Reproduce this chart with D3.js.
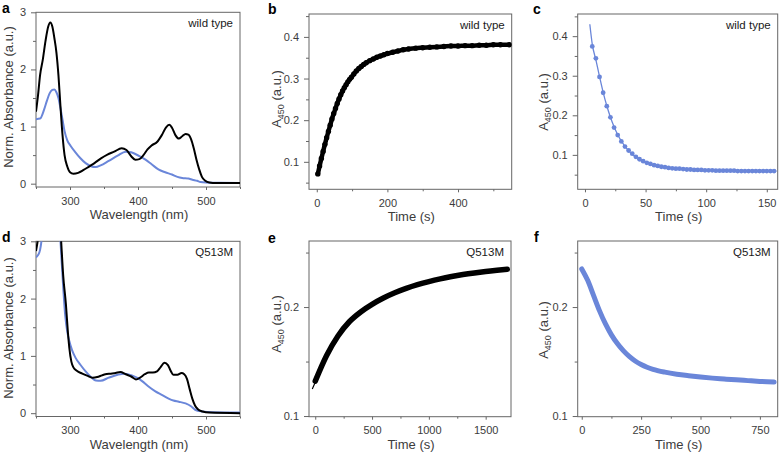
<!DOCTYPE html>
<html><head><meta charset="utf-8">
<script src="https://cdn.jsdelivr.net/npm/d3@7"></script>
<style>
html,body{margin:0;padding:0;background:#fff;}
svg{display:block;}
svg text{font-family:"Liberation Sans",Arial,sans-serif;}
</style></head>
<body>
<svg id="chart" width="783" height="456"></svg>
<script>
// ---------- DATA ----------
// Panel a (wild type spectra): [wavelength nm, normalized absorbance]
const specWtBlack = [[250,1.26],[253,1.55],[256,1.9],[260,2.17],[264,2.5],[268,2.75],[271,2.82],[274,2.75],[277,2.55],[280,2.3],[283,1.9],[286,1.35],[289,0.85],[292,0.5],[296,0.3],[300,0.2],[305,0.175],[312,0.19],[320,0.24],[328,0.3],[336,0.36],[345,0.44],[355,0.51],[365,0.56],[376,0.62],[383,0.59],[390,0.48],[396,0.42],[402,0.43],[408,0.5],[414,0.6],[420,0.67],[428,0.73],[435,0.85],[441,0.98],[446,1.03],[450,0.98],[455,0.85],[460,0.79],[465,0.83],[470,0.87],[474,0.86],[478,0.78],[482,0.62],[486,0.42],[490,0.25],[494,0.12],[499,0.05],[505,0.02],[515,0.01],[550,0.01]];
const specWtBlue = [[250,1.13],[256,1.14],[262,1.3],[266,1.45],[270,1.58],[274,1.64],[277,1.65],[280,1.6],[283,1.5],[286,1.32],[289,1.12],[292,0.92],[296,0.76],[301,0.66],[308,0.55],[315,0.45],[323,0.36],[330,0.31],[338,0.29],[345,0.32],[357,0.4],[370,0.49],[382,0.56],[390,0.55],[396,0.52],[404,0.47],[411,0.42],[420,0.34],[430,0.25],[440,0.2],[450,0.16],[458,0.12],[465,0.1],[474,0.09],[480,0.07],[487,0.05],[492,0.03],[500,0.02],[520,0.015],[550,0.01]];
// Panel d (Q513M spectra)
const specMutBlack = [[250,2.83],[253,3.05],[260,4.0],[270,4.8],[280,4.3],[284,3.6],[287,3.0],[290,2.4],[294,1.9],[297,1.4],[299,1.14],[302,0.9],[305,0.8],[310,0.74],[318,0.69],[326,0.65],[333,0.62],[340,0.63],[347,0.66],[352,0.68],[360,0.69],[367,0.7],[374,0.72],[382,0.68],[390,0.64],[397,0.59],[403,0.62],[410,0.68],[416,0.71],[422,0.71],[428,0.73],[433,0.8],[439,0.88],[444,0.84],[448,0.74],[452,0.67],[458,0.67],[464,0.7],[468,0.68],[472,0.6],[476,0.42],[480,0.25],[484,0.13],[488,0.07],[495,0.03],[505,0.01],[550,0.0]];
const specMutBlue = [[250,2.72],[253,2.76],[256,2.85],[259,3.1],[265,4.0],[275,4.4],[282,3.8],[286,3.0],[290,2.2],[293,1.7],[296,1.42],[299,1.26],[303,1.1],[308,0.97],[315,0.85],[323,0.73],[330,0.64],[338,0.57],[345,0.565],[357,0.62],[370,0.67],[380,0.69],[391,0.66],[400,0.61],[406,0.56],[415,0.47],[425,0.385],[435,0.32],[445,0.255],[452,0.22],[460,0.2],[470,0.17],[478,0.12],[484,0.06],[494,0.03],[510,0.015],[550,0.01]];
// Panel b (wild type, A450 rise): [time s, A450]
const riseWt = [[3,0.071],[8,0.09],[13,0.108],[18,0.125],[23,0.142],[28,0.158],[33,0.173],[38,0.188],[43,0.203],[48,0.216],[53,0.228],[58,0.24],[63,0.251],[68,0.261],[73,0.27],[78,0.278],[83,0.285],[88,0.292],[93,0.298],[98,0.303],[105,0.311],[112,0.318],[119,0.324],[126,0.329],[133,0.334],[140,0.338],[150,0.343],[160,0.347],[170,0.351],[180,0.354],[190,0.357],[200,0.36],[215,0.363],[230,0.366],[245,0.369],[260,0.371],[280,0.373],[300,0.374],[320,0.375],[340,0.376],[360,0.377],[380,0.378],[400,0.378],[420,0.379],[440,0.379],[460,0.38],[480,0.38],[500,0.381],[520,0.381],[545,0.381]];
// Panel c (wild type, A450 decay) points and fit
const decayWt = [[6,0.374],[9,0.344],[12,0.297],[15,0.257],[18,0.223],[21,0.195],[24,0.169],[27,0.15],[30,0.134],[33,0.121],[36,0.111],[39,0.103],[42,0.095],[45,0.089],[48,0.084],[51,0.08],[54,0.077],[57,0.074],[60,0.072],[63,0.07],[66,0.069],[69,0.067],[72,0.066],[75,0.065],[78,0.065],[81,0.064],[84,0.063],[87,0.063],[90,0.062],[93,0.062],[96,0.062],[99,0.061],[102,0.061],[105,0.061],[108,0.06],[111,0.06],[114,0.06],[117,0.06],[120,0.06],[123,0.06],[126,0.059],[129,0.059],[132,0.059],[135,0.059],[138,0.059],[141,0.059],[144,0.059],[147,0.059],[150,0.059],[153,0.059],[156,0.059]];
const decayWtFit = [[4,0.43],[6,0.38],[9,0.34],[12,0.298],[15,0.258],[18,0.224],[21,0.195],[24,0.171],[27,0.151],[30,0.135],[35,0.114],[40,0.099],[45,0.089],[50,0.081],[60,0.072],[70,0.067],[80,0.064],[100,0.061],[120,0.06],[158,0.059]];
// Panel e (Q513M, A450 rise)
const riseMut = [[0,0.132],[100,0.1555],[200,0.1735],[300,0.1865],[400,0.1955],[500,0.2025],[600,0.2083],[700,0.2131],[800,0.2171],[900,0.2205],[1000,0.2234],[1100,0.2259],[1200,0.228],[1300,0.2298],[1400,0.2313],[1500,0.2326],[1600,0.2337],[1690,0.2346]];
const riseMutFit = [[-26,0.1248],[0,0.131],[20,0.136]];
// Panel f (Q513M, A450 decay)
const decayMut = [[0,0.235],[25,0.2245],[50,0.2105],[75,0.1965],[100,0.1845],[125,0.1745],[150,0.1665],[175,0.16],[200,0.1547],[225,0.1505],[250,0.1473],[275,0.1448],[300,0.1429],[350,0.1403],[400,0.1384],[450,0.137],[500,0.1358],[550,0.1348],[600,0.134],[650,0.1332],[700,0.1325],[750,0.1318],[810,0.1312]];

// tick values
const ticksSpecX = [300,400,500], minorSpecX = [250,350,450,550];
const ticksSpecY = [0,1,2,3], minorSpecY = [0.5,1.5,2.5];
const ticksBX = [0,200,400], minorBX = [100,300,500];
const ticksCX = [0,50,100,150], minorCX = [25,75,125];
const ticksBCY = [0.1,0.2,0.3,0.4], minorBCY = [0.05,0.15,0.25,0.35,0.45];
const ticksEX = [0,500,1000,1500], minorEX = [250,750,1250];
const ticksFX = [0,250,500,750], minorFX = [125,375,625];
const ticksEFY = [0.1,0.2], minorEFY = [0.15,0.25];

// ---------- DRAWING ----------
const BLUE = "#6a86d9";
const TXT = "#3c3c3c";
const FONT = "'Liberation Sans',Arial,sans-serif";
const svg = d3.select("#chart");
let clipId = 0;

function panel(o){
  const g = svg.append("g");
  const x = d3.scaleLinear().domain(o.xd).range([o.x0,o.x1]);
  const y = d3.scaleLinear().domain(o.yd).range([o.y1,o.y0]);
  const id = "clip"+(clipId++);
  g.append("clipPath").attr("id",id).append("rect")
    .attr("x",o.x0).attr("y",o.y0).attr("width",o.x1-o.x0).attr("height",o.y1-o.y0);
  const styleAx = sel => { sel.select(".domain").remove(); sel.selectAll("line").attr("stroke","#666");
    sel.selectAll("text").attr("fill",TXT).style("font-size","11px").style("font-family",FONT); };
  g.append("g").attr("transform",`translate(0,${o.y1})`)
    .call(d3.axisBottom(x).tickValues(o.xt).tickSize(3).tickPadding(7).tickFormat(d3.format("d"))).call(styleAx);
  g.append("g").attr("transform",`translate(0,${o.y1})`)
    .call(d3.axisBottom(x).tickValues(o.xm).tickSize(2).tickFormat("")).call(styleAx);
  g.append("g").attr("transform",`translate(${o.x0},0)`)
    .call(d3.axisLeft(y).tickValues(o.yt).tickSize(5).tickPadding(5).tickFormat(o.yf)).call(styleAx);
  g.append("g").attr("transform",`translate(${o.x0},0)`)
    .call(d3.axisLeft(y).tickValues(o.ym).tickSize(3).tickFormat("")).call(styleAx);
  g.append("rect").attr("x",o.x0).attr("y",o.y0).attr("width",o.x1-o.x0).attr("height",o.y1-o.y0)
    .attr("fill","none").attr("stroke","#666").attr("stroke-width",1);
  const plot = g.append("g").attr("clip-path",`url(#${id})`);
  g.append("text").attr("x",o.x1-7).attr("y",o.y0+15).attr("text-anchor","end")
    .style("font-size","11.5px").style("font-family",FONT).attr("fill","#1a1a1a").text(o.note);
  g.append("text").attr("x",o.lx).attr("y",o.ly).style("font-size","14px").style("font-weight","bold")
    .style("font-family",FONT).attr("fill","#000").text(o.letter);
  g.append("text").attr("x",(o.x0+o.x1)/2+1).attr("y",o.y1+32).attr("text-anchor","middle")
    .style("font-size","13px").style("font-family",FONT).attr("fill",TXT).text(o.xtitle);
  const yt = g.append("text").attr("transform",`translate(${o.ytx},${o.ytc}) rotate(-90)`)
    .attr("text-anchor","middle").style("font-size","13px").style("font-family",FONT).attr("fill",TXT);
  if(o.ytitle==="A450"){
    yt.append("tspan").text("A");
    yt.append("tspan").attr("dy",3).style("font-size","9px").text("450");
    yt.append("tspan").attr("dy",-3).text(" (a.u.)");
  } else yt.text(o.ytitle);
  return {plot,x,y};
}

function lineOf(p){ return d3.line().x(d=>p.x(d[0])).y(d=>p.y(d[1])).curve(d3.curveMonotoneX); }
function spectrum(p, data, color){
  p.plot.append("path").datum(data).attr("fill","none").attr("stroke",color).attr("stroke-width",2)
    .attr("stroke-linejoin","round").attr("d",lineOf(p));
}
function band(p, data, color, w){
  p.plot.append("path").datum(data).attr("fill","none").attr("stroke",color).attr("stroke-width",w)
    .attr("stroke-linecap","round").attr("d",lineOf(p));
}
function dots(p, data, color, r){
  p.plot.selectAll(null).data(data).enter().append("circle")
    .attr("cx",d=>p.x(d[0])).attr("cy",d=>p.y(d[1])).attr("r",r).attr("fill",color);
}
function thin(p, data, color, w){
  p.plot.append("path").datum(data).attr("fill","none").attr("stroke",color).attr("stroke-width",w).attr("d",lineOf(p));
}

const fInt = d3.format("d"), f1 = d3.format(".1f");

// a
const pa = panel({x0:36,x1:240,y0:12.3,y1:187,xd:[250,550],yd:[-0.058,3],xt:ticksSpecX,xm:minorSpecX,yt:ticksSpecY,ym:minorSpecY,yf:fInt,
  note:"wild type",letter:"a",lx:2,ly:13,xtitle:"Wavelength (nm)",ytitle:"Norm. Absorbance (a.u.)",ytx:13,ytc:97});
spectrum(pa, specWtBlue, BLUE);
spectrum(pa, specWtBlack, "#000");

// b
const pb = panel({x0:309,x1:511.7,y0:14,y1:189.3,xd:[-22,552],yd:[0.034,0.455],xt:ticksBX,xm:minorBX,yt:ticksBCY,ym:minorBCY,yf:f1,
  note:"wild type",letter:"b",lx:268,ly:13.5,xtitle:"Time (s)",ytitle:"A450",ytx:281,ytc:99});
band(pb, riseWt, "#000", 4.5);
dots(pb, riseWt, "#000", 2.7);

// c
const pc = panel({x0:577.7,x1:777.7,y0:14,y1:189.3,xd:[-6,159],yd:[0.013,0.456],xt:ticksCX,xm:minorCX,yt:ticksBCY,ym:minorBCY,yf:f1,
  note:"wild type",letter:"c",lx:533,ly:13.5,xtitle:"Time (s)",ytitle:"A450",ytx:548,ytc:102});
thin(pc, decayWtFit, BLUE, 1.3);
dots(pc, decayWt, BLUE, 2.4);

// d
const pd = panel({x0:36,x1:240,y0:241.3,y1:416.5,xd:[250,550],yd:[-0.058,3],xt:ticksSpecX,xm:minorSpecX,yt:ticksSpecY,ym:minorSpecY,yf:fInt,
  note:"Q513M",letter:"d",lx:2,ly:242,xtitle:"Wavelength (nm)",ytitle:"Norm. Absorbance (a.u.)",ytx:13,ytc:328});
spectrum(pd, specMutBlue, BLUE);
spectrum(pd, specMutBlack, "#000");

// e
const pe = panel({x0:309,x1:511,y0:241,y1:416.7,xd:[-55,1723],yd:[0.0994,0.2606],xt:ticksEX,xm:minorEX,yt:ticksEFY,ym:minorEFY,yf:f1,
  note:"Q513M",letter:"e",lx:268,ly:243,xtitle:"Time (s)",ytitle:"A450",ytx:281,ytc:324});
thin(pe, riseMutFit, "#000", 1.2);
band(pe, riseMut, "#000", 5.5);

// f
const pf = panel({x0:577.7,x1:777.7,y0:241,y1:416.7,xd:[-17,825],yd:[0.0994,0.2606],xt:ticksFX,xm:minorFX,yt:ticksEFY,ym:minorEFY,yf:f1,
  note:"Q513M",letter:"f",lx:534,ly:242,xtitle:"Time (s)",ytitle:"A450",ytx:548,ytc:330});
band(pf, decayMut, BLUE, 5);
</script>
</body></html>
